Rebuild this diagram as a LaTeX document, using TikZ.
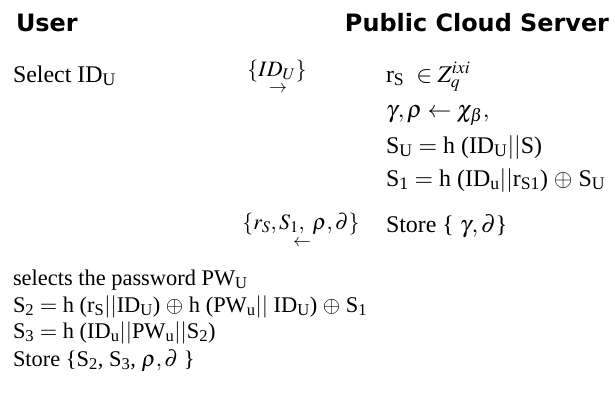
\documentclass[tikz,border=0pt]{standalone}
\usepackage{mathptmx}
\usepackage{fontspec}
\setmainfont{Liberation Serif}
\newfontfamily\hdrfont{DejaVu Sans}
\begin{document}
\begin{tikzpicture}[x=1bp,y=-1bp,
  every node/.style={inner sep=0pt,outer sep=0pt},
  hdr/.style={font=\hdrfont\bfseries\fontsize{24}{28}\selectfont},
  rtxt/.style={font=\fontsize{24}{28}\selectfont,anchor=base west},
  ltxt/.style={font=\fontsize{22.5}{27}\selectfont,anchor=base west},
  msg/.style={font=\fontsize{22}{26}\selectfont,anchor=base},
  arr/.style={font=\fontsize{18}{18}\selectfont,anchor=center}]
\useasboundingbox (0,0) rectangle (615,395);
% headers
\node[hdr,anchor=base west] (user) at (16,31) {User};
\node[hdr,anchor=base east] (server) at (609,31) {Public Cloud Server};
% user side
\node[rtxt] (sel) at (13,82) {Select ID\textsubscript{U}};
% message 1
\node[msg] (m1) at (277,76) {$\{ID_U\}$};
\node[arr] (a1) at (278,89) {$\rightarrow$};
% server side
\node[rtxt] (s1) at (386,82) {r\textsubscript{S}\ \ $\in Z_q^{ixi}$};
\node[rtxt] (s2) at (386,117) {$\gamma, \rho \leftarrow \chi_\beta,$};
\node[rtxt] (s3) at (386,153) {S\textsubscript{U} $=$ h (ID\textsubscript{U}$||$S)};
\node[rtxt] (s4) at (386,186) {S\textsubscript{1} $=$ h (ID\textsubscript{u}$||$r\textsubscript{S1}) $\oplus$ S\textsubscript{U}};
\node[rtxt] (s5) at (386,232) {Store \{ $\gamma, \partial$\}};
% message 2
\node[msg] (m2) at (301,229) {$\{r_S, S_1,\ \rho, \partial\}$};
\node[arr] (a2) at (302,243) {$\leftarrow$};
% user side, bottom
\node[ltxt] (u1) at (13,285) {selects the password PW\textsubscript{U}};
\node[ltxt] (u2) at (13,312) {S\textsubscript{2} $=$ h (r\textsubscript{S}$||$ID\textsubscript{U}) $\oplus$ h (PW\textsubscript{u}$||$ ID\textsubscript{U}) $\oplus$ S\textsubscript{1}};
\node[ltxt] (u3) at (13,338) {S\textsubscript{3} $=$ h (ID\textsubscript{u}$||$PW\textsubscript{u}$||$S\textsubscript{2})};
\node[ltxt] (u4) at (13,366) {Store \{S\textsubscript{2}, S\textsubscript{3}, $\rho, \partial$ \}};
\end{tikzpicture}
\end{document}
